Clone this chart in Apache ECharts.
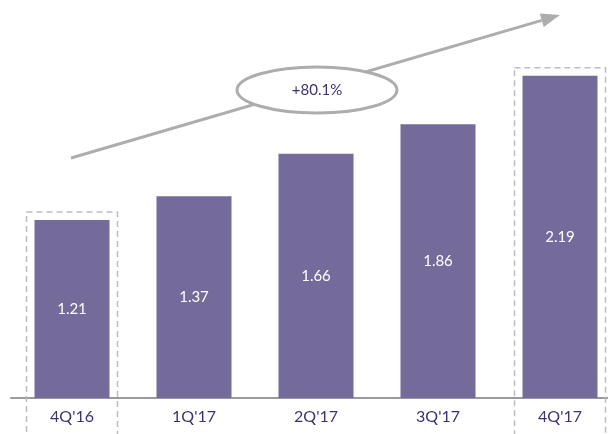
<!DOCTYPE html>
<html>
<head>
<meta charset="utf-8">
<script src="https://cdn.jsdelivr.net/npm/echarts@6/dist/echarts.min.js"></script>
<style>
  html, body { margin: 0; padding: 0; background: #fff; }
  #chart { width: 608px; height: 434px; }
</style>
</head>
<body>
<div id="chart"></div>
<script>
// data
const quarters = ["4Q'16", "1Q'17", "2Q'17", "3Q'17", "4Q'17"];
const values = [1.21, 1.37, 1.66, 1.86, 2.19];
const growthLabel = '+80.1%';
const highlighted = [0, 4]; // bars with dashed boxes

const barColor = '#746b9b';
const textPurple = '#3d3270';
const grey = '#adadad';

const chart = echarts.init(document.getElementById('chart'));

const option = {
    animation: false,
    grid: {
        left: 11,
        width: 610,
        top: 30,
        bottom: 36,
        outerBoundsMode: 'none',
        containLabel: false
    },
    xAxis: {
        type: 'category',
        data: quarters,
        axisTick: { show: false },
        axisLine: { lineStyle: { color: '#9a9a9a', width: 2 } },
        axisLabel: {
            color: textPurple,
            fontSize: 16,
            fontFamily: 'Lato',
            margin: 11
        }
    },
    yAxis: {
        type: 'value',
        min: 0,
        max: 2.5,
        show: false,
        splitLine: { show: false }
    },
    series: [
        {
            type: 'bar',
            data: values,
            barWidth: 75,
            itemStyle: { color: barColor },
            label: {
                show: true,
                position: 'inside',
                color: '#fff',
                fontSize: 15,
                fontFamily: 'Lato',
                formatter: p => p.value.toFixed(2)
            }
        }
    ]
};

chart.setOption(option);

// dashed boxes round first and last bar, worked out from the axes
const graphics = [];
highlighted.forEach(i => {
    const top = chart.convertToPixel({ gridIndex: 0 }, [i, values[i]]);
    graphics.push({
        type: 'rect',
        shape: { x: top[0] - 45.5, y: top[1] - 8, width: 91, height: 434 - top[1] + 20 },
        style: { fill: null, stroke: '#bdbdbd', lineWidth: 1.5, lineDash: [6, 4] },
        z: 1
    });
});

// growth arrow
const start = [71, 158];
const tip = [560, 15];
const ang = Math.atan2(tip[1] - start[1], tip[0] - start[0]);
const headLen = 19, headHalf = 7;
const base = [tip[0] - headLen * Math.cos(ang), tip[1] - headLen * Math.sin(ang)];
const nx = -Math.sin(ang), ny = Math.cos(ang);
graphics.push({
    type: 'line',
    shape: { x1: start[0], y1: start[1], x2: base[0], y2: base[1] },
    style: { stroke: grey, lineWidth: 3 },
    z: 10
});
graphics.push({
    type: 'polygon',
    shape: { points: [tip, [base[0] + nx * headHalf, base[1] + ny * headHalf], [base[0] - nx * headHalf, base[1] - ny * headHalf]] },
    style: { fill: grey },
    z: 10
});
graphics.push({
    type: 'ellipse',
    shape: { cx: 317, cy: 90, rx: 80, ry: 23 },
    style: { fill: '#fff', stroke: grey, lineWidth: 3 },
    z: 11
});
graphics.push({
    type: 'text',
    x: 317,
    y: 90,
    style: {
        text: growthLabel,
        fill: textPurple,
        font: '15px Lato',
        align: 'center',
        verticalAlign: 'middle'
    },
    z: 12
});

chart.setOption({ graphic: graphics });
</script>
</body>
</html>
